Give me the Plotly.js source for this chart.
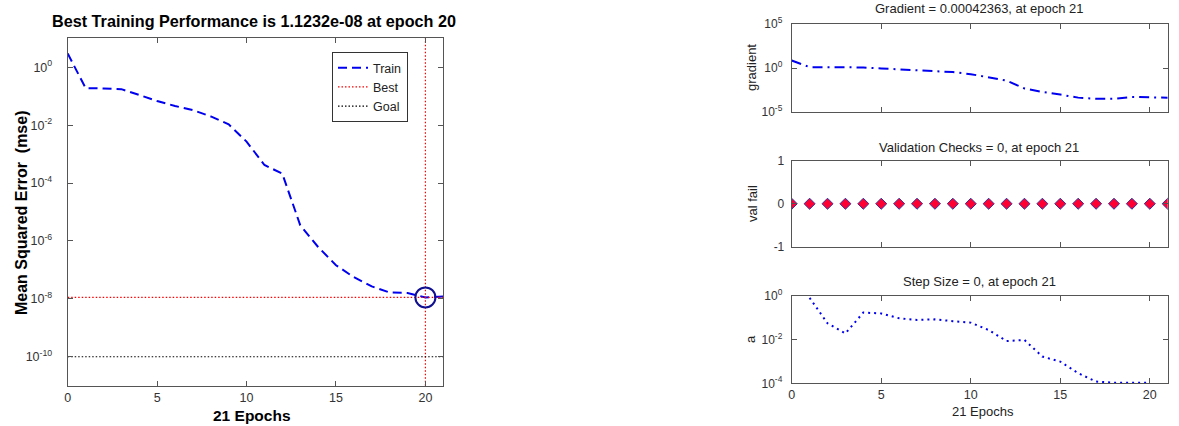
<!DOCTYPE html>
<html>
<head>
<meta charset="utf-8">
<script src="https://cdn.plot.ly/plotly-3.0.1.min.js"></script>
<style>html,body{margin:0;padding:0;background:#fff;}#chart{width:1179px;height:426px;}</style>
</head>
<body>
<div id="chart"></div>
<script>
// ---------- data ----------
const epochs = [0,1,2,3,4,5,6,7,8,9,10,11,12,13,14,15,16,17,18,19,20,21];
const trainPerf = [3.0,0.19,0.185,0.175,0.11,0.068,0.046,0.033,0.020,0.0107,0.0027,4.2e-4,2.1e-4,3.5e-6,6.2e-7,1.45e-7,5.6e-8,2.7e-8,1.65e-8,1.6e-8,1.1232e-8,1.2e-8];
const bestEpoch = 20;
const bestPerf = 1.1232e-8;
const goalPerf = 1e-10;
const gradient = [7.0,1.25,1.25,1.25,1.15,0.9,0.7,0.54,0.45,0.34,0.2,0.08,0.037,0.0047,0.0019,0.00095,0.00043,0.00032,0.00032,0.00051,0.00043,0.00042363];
const valFail = [0,0,0,0,0,0,0,0,0,0,0,0,0,0,0,0,0,0,0,0,0,0];
const stepSize = [null,0.8,0.055,0.019,0.17,0.155,0.093,0.078,0.083,0.069,0.059,0.027,0.0085,0.0095,0.00166,0.00098,0.00029,0.00012,0.000107,0.000107,0.000107,null];

const perfTickVals = [1e-10,1e-8,1e-6,1e-4,1e-2,1];
const perfTickText = ['10<sup>-10</sup>','10<sup>-8</sup>','10<sup>-6</sup>','10<sup>-4</sup>','10<sup>-2</sup>','10<sup>0</sup>'];
const gradTickVals = [1e-5,1,1e5];
const gradTickText = ['10<sup>-5</sup>','10<sup>0</sup>','10<sup>5</sup>'];
const valTickVals = [-1,0,1];
const valTickText = ['-1','0','1'];
const stepTickVals = [1e-4,1e-2,1];
const stepTickText = ['10<sup>-4</sup>','10<sup>-2</sup>','10<sup>0</sup>'];
const epochTickVals = [0,5,10,15,20];
const epochTickText = ['0','5','10','15','20'];

const xRange = [0,21];
const perfRangeLog = [-11,1];

// ---------- layout helpers ----------
const W = 1179, H = 426;
const px = x => x / W;
const py = y => 1 - y / H;
const FONT = 'Liberation Sans, Arial, sans-serif';
const AX = '#555';

function axisBase(extra) {
  return Object.assign({
    showline: true, linecolor: AX, linewidth: 1, mirror: 'ticks',
    ticks: 'inside', ticklen: 5, tickcolor: AX, tickwidth: 1,
    showgrid: false, zeroline: false, automargin: false,
    tickfont: {family: FONT, size: 12.5, color: '#333'}, fixedrange: true
  }, extra);
}
const rightTickFont = {family: FONT, size: 12, color: '#333'};

const traces = [
  {x: epochs, y: trainPerf, xaxis: 'x', yaxis: 'y', mode: 'lines', name: 'Train',
   line: {color: '#0000f0', width: 2, dash: '9px,5px'}},
  {x: [bestEpoch, bestEpoch], y: [Math.pow(10, perfRangeLog[0]), Math.pow(10, perfRangeLog[1])], xaxis: 'x', yaxis: 'y',
   mode: 'lines', name: 'Best', line: {color: '#ff0000', width: 1.2, dash: '1.5px,2px'}},
  {x: xRange, y: [bestPerf, bestPerf], xaxis: 'x', yaxis: 'y', mode: 'lines', showlegend: false,
   line: {color: '#ff0000', width: 1.2, dash: '1.5px,2px'}},
  {x: xRange, y: [goalPerf, goalPerf], xaxis: 'x', yaxis: 'y', mode: 'lines', name: 'Goal',
   line: {color: '#000000', width: 1.2, dash: '1.5px,2px'}},
  {x: [bestEpoch], y: [bestPerf], xaxis: 'x', yaxis: 'y', mode: 'markers', showlegend: false,
   marker: {symbol: 'circle-open', size: 20, color: '#101090', line: {width: 2, color: '#101090'}}},
  {x: epochs, y: gradient, xaxis: 'x2', yaxis: 'y2', mode: 'lines', showlegend: false,
   line: {color: '#0000f0', width: 2, dash: '10px,5px,2px,5px'}},
  {x: epochs, y: valFail, xaxis: 'x3', yaxis: 'y3', mode: 'markers', showlegend: false,
   marker: {symbol: 'diamond', size: 8.5, color: '#ff0033', line: {width: 1, color: '#3030a0'}}},
  {x: epochs, y: stepSize, xaxis: 'x4', yaxis: 'y4', mode: 'lines', showlegend: false,
   line: {color: '#0000f0', width: 2, dash: '2px,4px'}}
];

const leftX = [px(67.7), px(443.3)];
const rightX = [px(791.7), px(1167.7)];

const layout = {
  width: W, height: H,
  margin: {l: 0, r: 0, t: 0, b: 0, pad: 0},
  paper_bgcolor: '#fff', plot_bgcolor: '#fff',
  font: {family: FONT, size: 12, color: '#000'},
  showlegend: true,
  legend: {x: px(408), y: py(52), xanchor: 'right', yanchor: 'top',
    bgcolor: '#fff', bordercolor: '#333', borderwidth: 1,
    font: {family: FONT, size: 12.5, color: '#222'}, tracegroupgap: 0},
  xaxis: axisBase({domain: leftX, anchor: 'y', range: xRange, tickmode: 'array', tickvals: epochTickVals, ticktext: epochTickText}),
  yaxis: axisBase({domain: [py(385.7), py(38.3)], anchor: 'x', type: 'log', range: perfRangeLog,
    tickmode: 'array', tickvals: perfTickVals, ticktext: perfTickText, ticklabelstandoff: 12}),
  xaxis2: axisBase({domain: rightX, anchor: 'y2', range: xRange, tickmode: 'array', tickvals: epochTickVals, showticklabels: false}),
  yaxis2: axisBase({domain: [py(112), py(24)], anchor: 'x2', type: 'log', range: [-5,5],
    tickmode: 'array', tickvals: gradTickVals, ticktext: gradTickText, ticklabelstandoff: 6, tickfont: rightTickFont}),
  xaxis3: axisBase({domain: rightX, anchor: 'y3', range: xRange, tickmode: 'array', tickvals: epochTickVals, showticklabels: false}),
  yaxis3: axisBase({domain: [py(246.5), py(161)], anchor: 'x3', range: [-1,1],
    tickmode: 'array', tickvals: valTickVals, ticktext: valTickText, ticklabelstandoff: 4, tickfont: rightTickFont}),
  xaxis4: axisBase({domain: rightX, anchor: 'y4', range: xRange, tickmode: 'array', tickvals: epochTickVals, ticktext: epochTickText, tickfont: {family: FONT, size: 12.5, color: '#333'}}),
  yaxis4: axisBase({domain: [py(383.3), py(295.7)], anchor: 'x4', type: 'log', range: [-4,0],
    tickmode: 'array', tickvals: stepTickVals, ticktext: stepTickText, ticklabelstandoff: 6, tickfont: rightTickFont}),
  annotations: [
    {text: '<b>Best Training Performance is 1.1232e-08 at epoch 20</b>', x: px(254), y: py(21), xref: 'paper', yref: 'paper',
     showarrow: false, xanchor: 'center', yanchor: 'middle', font: {family: FONT, size: 16.2, color: '#000'}},
    {text: '<b>Mean Squared Error \u00a0(mse)</b>', x: px(21), y: py(213), xref: 'paper', yref: 'paper', textangle: -90,
     showarrow: false, xanchor: 'center', yanchor: 'middle', font: {family: FONT, size: 16, color: '#000'}},
    {text: '<b>21 Epochs</b>', x: px(252), y: py(415), xref: 'paper', yref: 'paper',
     showarrow: false, xanchor: 'center', yanchor: 'middle', font: {family: FONT, size: 15.5, color: '#000'}},
    {text: 'Gradient = 0.00042363, at epoch 21', x: px(979), y: py(9), xref: 'paper', yref: 'paper',
     showarrow: false, xanchor: 'center', yanchor: 'middle', font: {family: FONT, size: 13, color: '#222'}},
    {text: 'Validation Checks = 0, at epoch 21', x: px(979), y: py(147), xref: 'paper', yref: 'paper',
     showarrow: false, xanchor: 'center', yanchor: 'middle', font: {family: FONT, size: 13, color: '#222'}},
    {text: 'Step Size = 0, at epoch 21', x: px(979), y: py(281), xref: 'paper', yref: 'paper',
     showarrow: false, xanchor: 'center', yanchor: 'middle', font: {family: FONT, size: 13, color: '#222'}},
    {text: '21 Epochs', x: px(983), y: py(411), xref: 'paper', yref: 'paper',
     showarrow: false, xanchor: 'center', yanchor: 'middle', font: {family: FONT, size: 13, color: '#222'}},
    {text: 'gradient', x: px(752), y: py(68), xref: 'paper', yref: 'paper', textangle: -90,
     showarrow: false, xanchor: 'center', yanchor: 'middle', font: {family: FONT, size: 13, color: '#222'}},
    {text: 'val fail', x: px(752), y: py(204), xref: 'paper', yref: 'paper', textangle: -90,
     showarrow: false, xanchor: 'center', yanchor: 'middle', font: {family: FONT, size: 13, color: '#222'}},
    {text: 'a', x: px(750), y: py(339), xref: 'paper', yref: 'paper', textangle: -90,
     showarrow: false, xanchor: 'center', yanchor: 'middle', font: {family: FONT, size: 13, color: '#222'}}
  ]
};

Plotly.newPlot('chart', traces, layout, {staticPlot: true, displayModeBar: false});
</script>
</body>
</html>
